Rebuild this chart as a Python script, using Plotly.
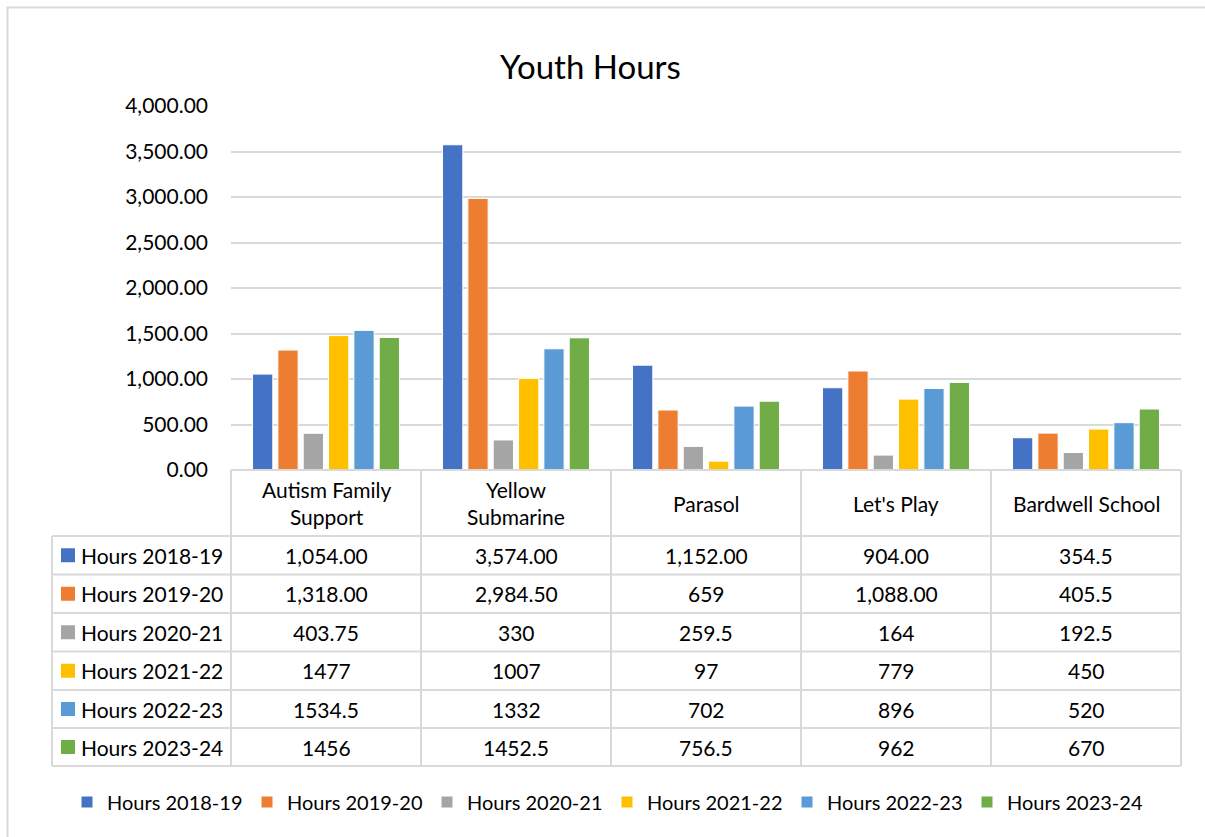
import plotly.graph_objects as go

# ---------------- data ----------------
categories = ["Autism Family Support", "Yellow Submarine", "Parasol", "Let's Play", "Bardwell School"]
category_labels = ["Autism Family<br>Support", "Yellow<br>Submarine", "Parasol", "Let's Play", "Bardwell School"]
series_names = ["Hours 2018-19", "Hours 2019-20", "Hours 2020-21", "Hours 2021-22", "Hours 2022-23", "Hours 2023-24"]

hours_2018_19 = [1054.00, 3574.00, 1152.00, 904.00, 354.5]
hours_2019_20 = [1318.00, 2984.50, 659, 1088.00, 405.5]
hours_2020_21 = [403.75, 330, 259.5, 164, 192.5]
hours_2021_22 = [1477, 1007, 97, 779, 450]
hours_2022_23 = [1534.5, 1332, 702, 896, 520]
hours_2023_24 = [1456, 1452.5, 756.5, 962, 670]

# table cell texts as shown in the data table
labels_2018_19 = ["1,054.00", "3,574.00", "1,152.00", "904.00", "354.5"]
labels_2019_20 = ["1,318.00", "2,984.50", "659", "1,088.00", "405.5"]
labels_2020_21 = ["403.75", "330", "259.5", "164", "192.5"]
labels_2021_22 = ["1477", "1007", "97", "779", "450"]
labels_2022_23 = ["1534.5", "1332", "702", "896", "520"]
labels_2023_24 = ["1456", "1452.5", "756.5", "962", "670"]

colors = ["#4472C4", "#ED7D31", "#A5A5A5", "#FFC000", "#5B9BD5", "#70AD47"]

all_values = [hours_2018_19, hours_2019_20, hours_2020_21, hours_2021_22, hours_2022_23, hours_2023_24]
all_labels = [labels_2018_19, labels_2019_20, labels_2020_21, labels_2021_22, labels_2022_23, labels_2023_24]

# ---------------- layout geometry (pixels) ----------------
W, H = 1205, 837
FONT = "Lato"
FS = 21
GRID = "#d9d9d9"


def px(x):
    return x / W


def py(y):
    return 1 - y / H


plot_left, plot_right = 231, 1181
plot_top, plot_bottom = 106, 470
table_left = 52
header_bottom = 536
row_lines = [536, 574.5, 613, 651.5, 690, 728, 766]
col_w = (plot_right - plot_left) / len(categories)
col_lines = [plot_left + i * col_w for i in range(len(categories) + 1)]

fig = go.Figure()
for name, vals, col in zip(series_names, all_values, colors):
    fig.add_trace(go.Bar(
        name=name, x=categories, y=vals,
        marker=dict(color=col, line=dict(color="white", width=1)),
    ))

shapes = []
# outer chart border
shapes.append(dict(type="line", xref="paper", yref="paper", x0=px(7), x1=px(1205), y0=py(7.5), y1=py(7.5),
                   line=dict(color=GRID, width=2)))
shapes.append(dict(type="line", xref="paper", yref="paper", x0=px(7.5), x1=px(7.5), y0=py(7), y1=py(837),
                   line=dict(color=GRID, width=2)))
# table horizontal lines
shapes.append(dict(type="line", xref="paper", yref="paper", x0=px(plot_left), x1=px(plot_right),
                   y0=py(plot_bottom), y1=py(plot_bottom), line=dict(color=GRID, width=2)))
for yl in row_lines:
    shapes.append(dict(type="line", xref="paper", yref="paper", x0=px(table_left), x1=px(plot_right),
                       y0=py(yl), y1=py(yl), line=dict(color=GRID, width=2)))
# table vertical lines
for xl in col_lines:
    shapes.append(dict(type="line", xref="paper", yref="paper", x0=px(xl), x1=px(xl),
                       y0=py(plot_bottom), y1=py(row_lines[-1]), line=dict(color=GRID, width=2)))
shapes.append(dict(type="line", xref="paper", yref="paper", x0=px(table_left), x1=px(table_left),
                   y0=py(header_bottom), y1=py(row_lines[-1]), line=dict(color=GRID, width=2)))

annotations = []
# title
annotations.append(dict(text="Youth Hours", x=px(590), y=py(66), xref="paper", yref="paper",
                        showarrow=False, font=dict(family=FONT, size=33, color="#000000"),
                        xanchor="center", yanchor="middle"))
# header cells
for i, lab in enumerate(category_labels):
    cx = (col_lines[i] + col_lines[i + 1]) / 2
    annotations.append(dict(text=lab, x=px(cx), y=py((plot_bottom + header_bottom) / 2), xref="paper",
                            yref="paper", showarrow=False, font=dict(family=FONT, size=FS, color="#000"),
                            xanchor="center", yanchor="middle"))
# data rows
for r, (name, labs, col) in enumerate(zip(series_names, all_labels, colors)):
    cy = (row_lines[r] + row_lines[r + 1]) / 2
    shapes.append(dict(type="rect", xref="paper", yref="paper", x0=px(61), x1=px(75),
                       y0=py(cy - 7), y1=py(cy + 7), fillcolor=col, line=dict(width=0)))
    annotations.append(dict(text=name, x=px(79), y=py(cy), xref="paper", yref="paper", showarrow=False,
                            font=dict(family=FONT, size=FS, color="#000"), xanchor="left", yanchor="middle"))
    for i, t in enumerate(labs):
        cx = (col_lines[i] + col_lines[i + 1]) / 2
        annotations.append(dict(text=t, x=px(cx), y=py(cy), xref="paper", yref="paper", showarrow=False,
                                font=dict(family=FONT, size=FS, color="#000"), xanchor="center",
                                yanchor="middle"))

fig.update_layout(
    width=W, height=H,
    margin=dict(l=0, r=0, t=0, b=0, pad=0, autoexpand=False),
    paper_bgcolor="white", plot_bgcolor="white",
    barmode="group", bargap=0.2, bargroupgap=0.2,
    font=dict(family=FONT, size=FS, color="#000"),
    xaxis=dict(domain=[px(plot_left), px(plot_right)], showticklabels=False, showgrid=False,
               zeroline=False, showline=False, ticks="", automargin=False),
    yaxis=dict(domain=[py(plot_bottom), py(plot_top)], range=[0, 4000], dtick=500,
               tickformat=",.2f", showgrid=True, gridcolor=GRID, gridwidth=1.5, zeroline=False,
               showline=False, ticks="", ticklabelstandoff=22, automargin=False,
               tickfont=dict(family=FONT, size=FS)),
    legend=dict(orientation="h", x=px(67), xanchor="left", y=py(802), yanchor="middle",
                font=dict(family=FONT, size=20), itemwidth=30, traceorder="normal",
                entrywidth=135, entrywidthmode="pixels"),
    shapes=shapes, annotations=annotations,
)

fig.write_html("out.html", config={"displayModeBar": False},
               post_script="document.body.style.margin='0';document.body.style.overflow='hidden';")
